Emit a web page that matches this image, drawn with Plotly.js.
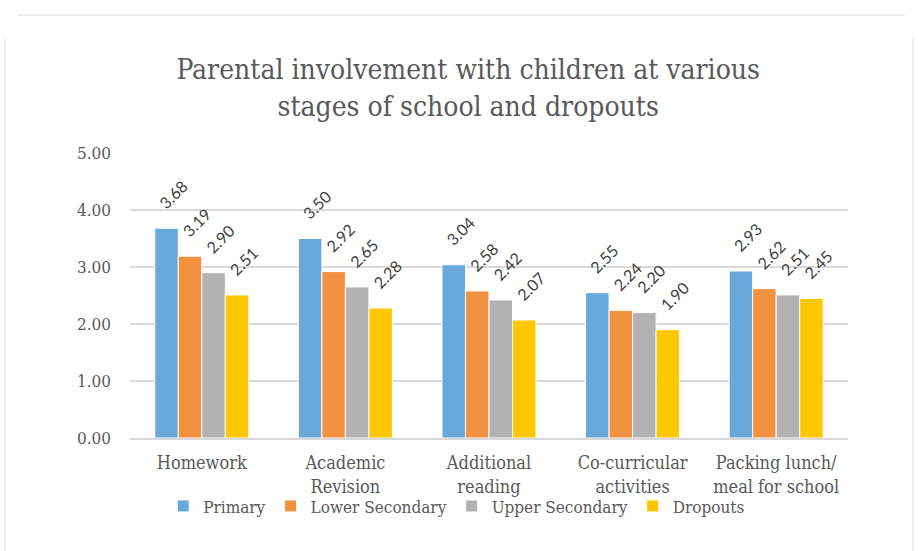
<!DOCTYPE html>
<html><head><meta charset="utf-8">
<script src="https://cdn.plot.ly/plotly-3.0.1.min.js"></script>
<style>html,body{margin:0;padding:0;background:#fff}#chart{width:918px;height:551px}</style>
</head><body><div id="chart"></div>
<script>
const categories = ["Homework", "Academic<br>Revision", "Additional<br>reading", "Co-curricular<br>activities", "Packing lunch/<br>meal for school"];
const seriesNames = ["Primary", "Lower Secondary", "Upper Secondary", "Dropouts"];
const primary = [3.68, 3.50, 3.04, 2.55, 2.93];
const lowerSecondary = [3.19, 2.92, 2.58, 2.24, 2.62];
const upperSecondary = [2.90, 2.65, 2.42, 2.20, 2.51];
const dropouts = [2.51, 2.28, 2.07, 1.90, 2.45];
const yTicks = [0, 1, 2, 3, 4, 5];
const yTickText = ["0.00", "1.00", "2.00", "3.00", "4.00", "5.00"];
const titleText = "Parental involvement with children at various<br>stages of school and dropouts";

const colors = ["#6AA8DB", "#F29140", "#B2B2B2", "#FFC700"];
const values = [primary, lowerSecondary, upperSecondary, dropouts];
const serif = "DejaVu Serif Condensed, Liberation Serif, serif";
const sans = "Lato, Liberation Sans, sans-serif";
const pad = "\u2007\u2007";

const traces = values.map((v, i) => ({
  type: "bar",
  name: seriesNames[i],
  x: categories,
  y: v,
  marker: {color: colors[i], line: {color: "#ffffff", width: 1}},
  text: v.map(d => pad + d.toFixed(2)),
  textposition: "outside",
  textangle: -45,
  constraintext: "none",
  cliponaxis: false,
  textfont: {family: sans, size: 16, color: "#404040"},
  hoverinfo: "skip"
}));

const layout = {
  width: 918, height: 551,
  margin: {l: 130, r: 70, t: 153, b: 113},
  paper_bgcolor: "#ffffff", plot_bgcolor: "#ffffff",
  barmode: "group", bargap: 0.345, bargroupgap: 0,
  title: {
    text: titleText,
    font: {family: serif, size: 28, color: "#595959"},
    x: 0.51, xanchor: "center", xref: "container",
    y: 0.856, yanchor: "middle", yref: "container"
  },
  xaxis: {
    showgrid: false, zeroline: false, showline: true, linecolor: "#d9d9d9", linewidth: 1.5,
    ticks: "", ticklabelstandoff: 8,
    tickfont: {family: serif, size: 18, color: "#595959"}, automargin: false
  },
  yaxis: {
    range: [0, 5], tickvals: yTicks, ticktext: yTickText,
    showgrid: true, gridcolor: "#d9d9d9", gridwidth: 1.5, zeroline: false, showline: false,
    ticks: "", ticklabelstandoff: 18,
    tickfont: {family: serif, size: 17, color: "#595959"}, automargin: false
  },
  showlegend: true,
  legend: {
    orientation: "h", x: 0.455, xanchor: "center", y: -0.24, yanchor: "middle",
    bgcolor: "rgba(0,0,0,0)",
    font: {family: serif, size: 17, color: "#595959"},
    itemwidth: 30, tracegroupgap: 0, traceorder: "normal"
  },
  shapes: [
    {type: "line", xref: "paper", yref: "paper", x0: -0.156, x1: 1.079, y0: 1.484, y1: 1.484, line: {color: "#dddddd", width: 1}},
    {type: "line", xref: "paper", yref: "paper", x0: -0.174, x1: -0.174, y0: 1.404, y1: -0.45, line: {color: "#dddddd", width: 1}},
    {type: "line", xref: "paper", yref: "paper", x0: 1.0905, x1: 1.0905, y0: 1.404, y1: -0.45, line: {color: "#dddddd", width: 1}}
  ]
};

Plotly.newPlot("chart", traces, layout, {displayModeBar: false, staticPlot: true});
</script>
</body></html>
